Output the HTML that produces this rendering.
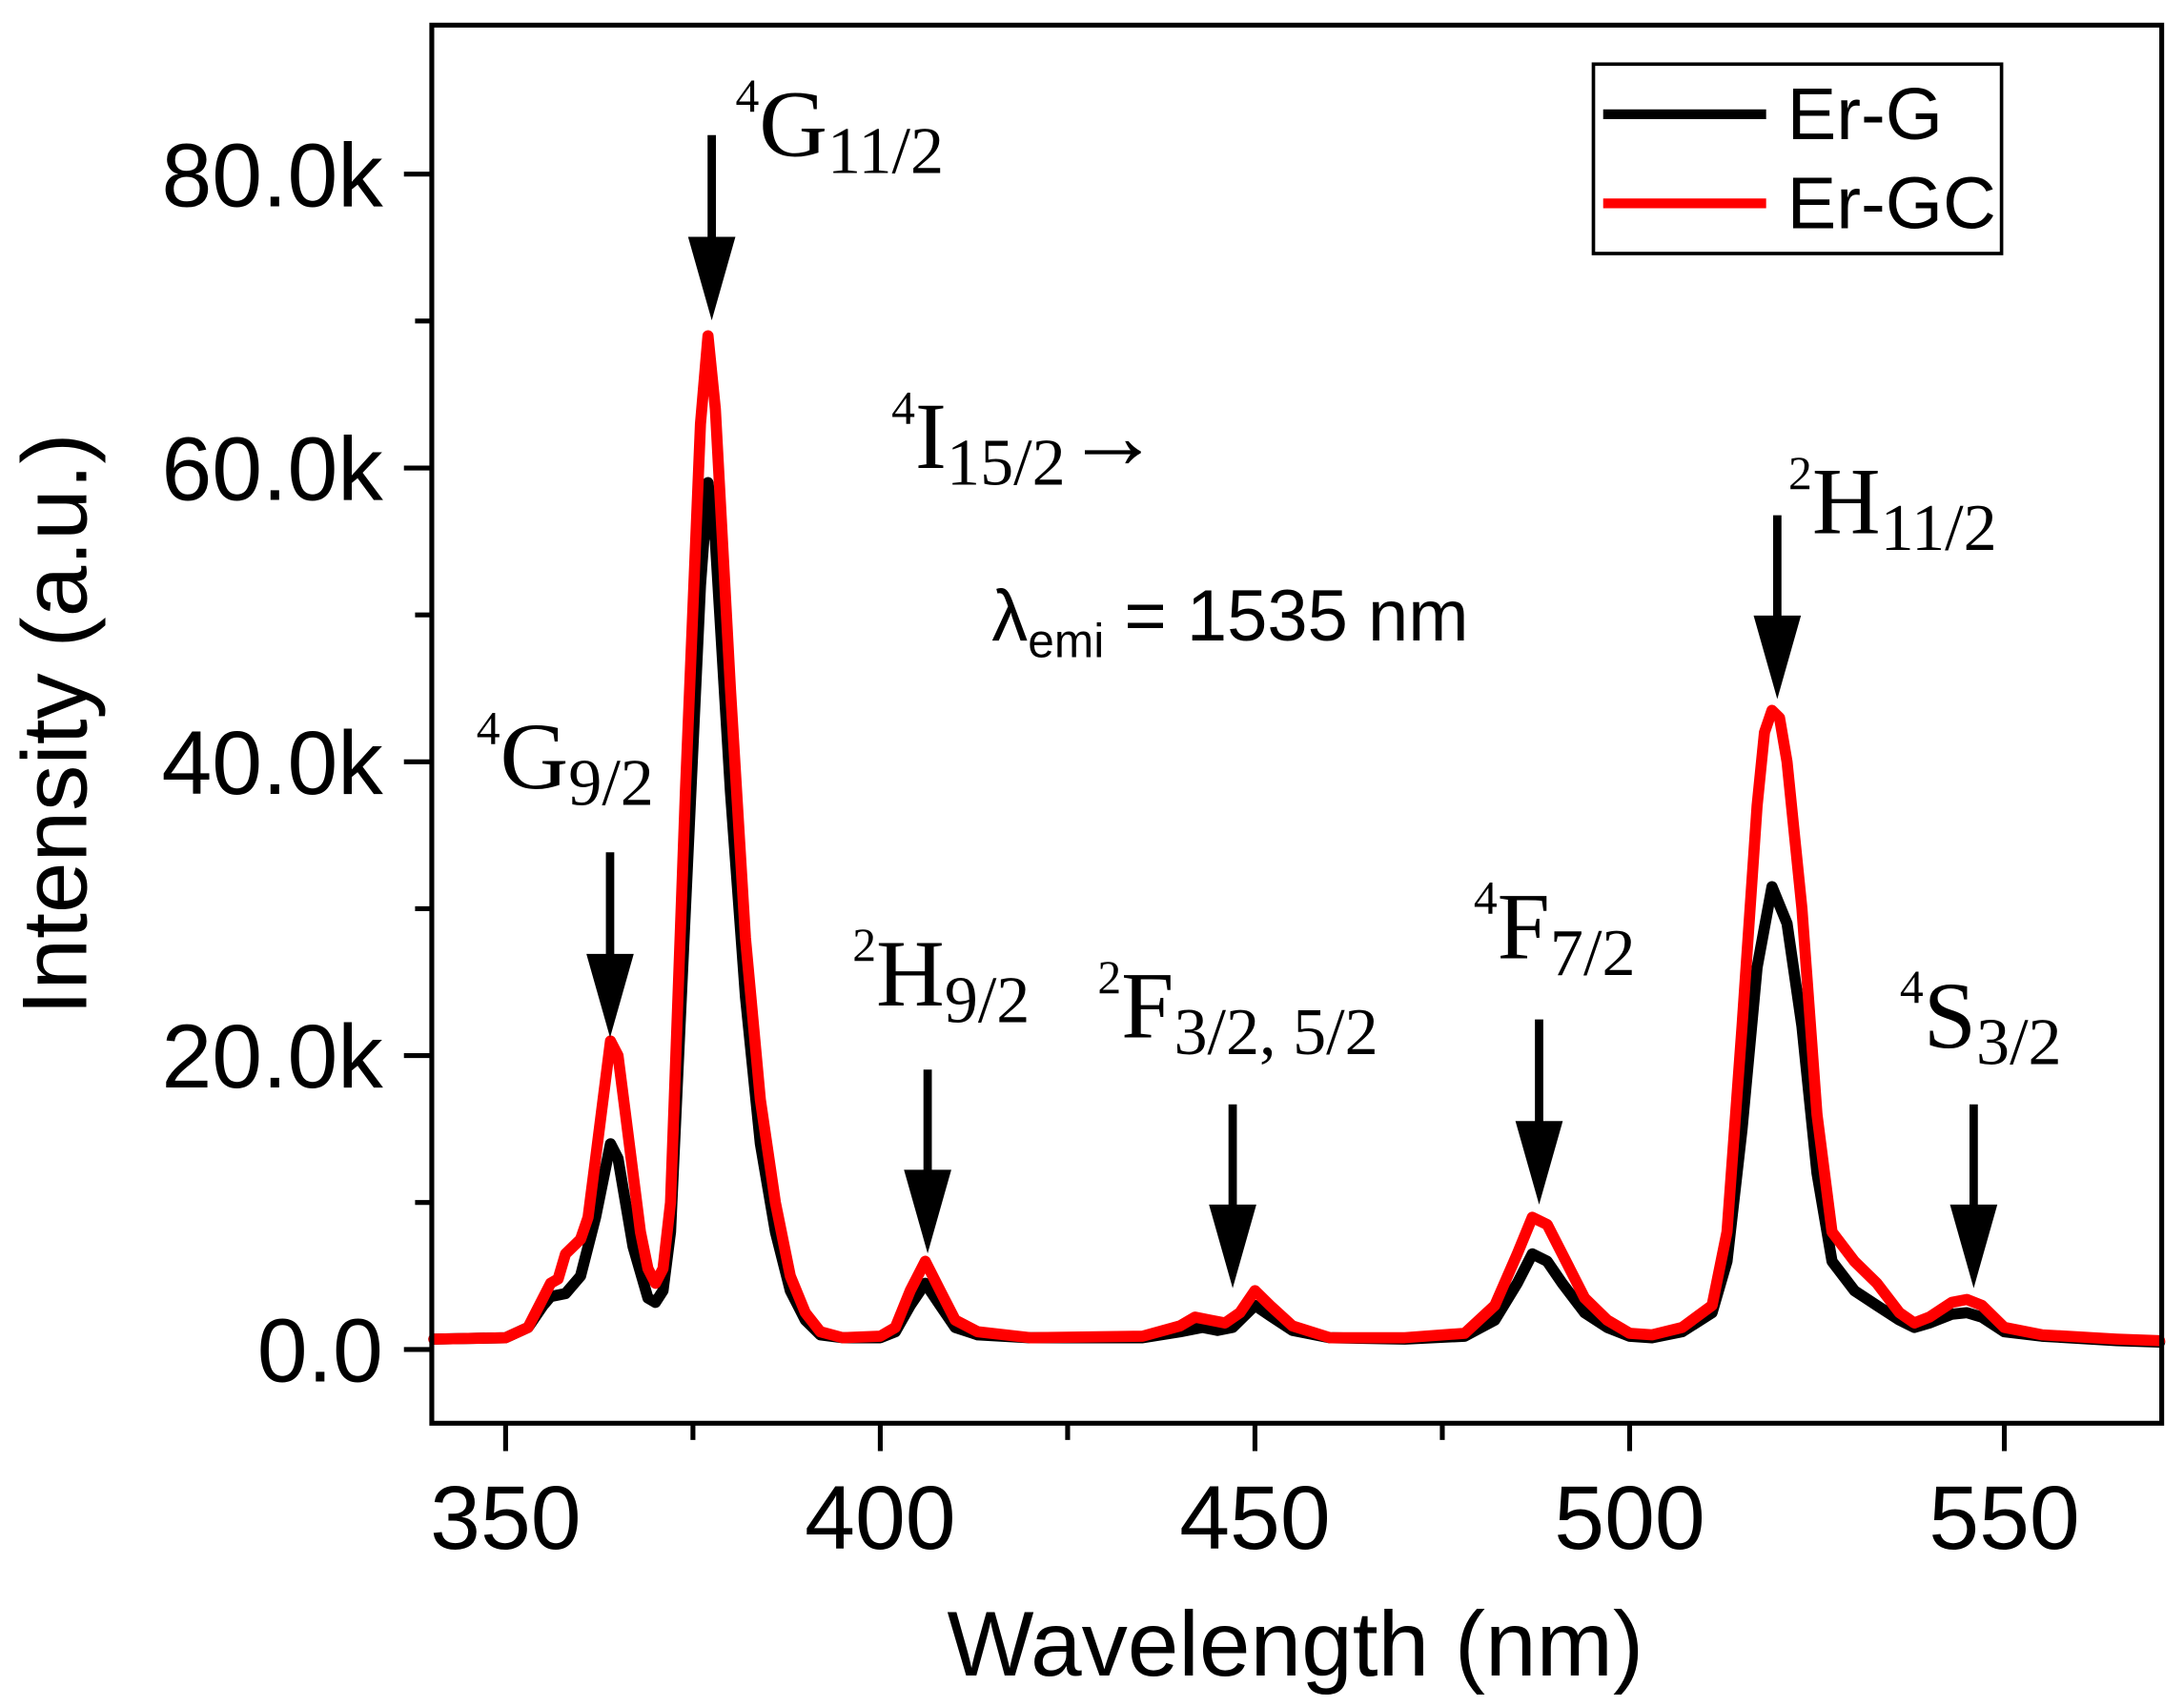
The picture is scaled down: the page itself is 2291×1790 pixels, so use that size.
<!DOCTYPE html>
<html><head><meta charset="utf-8"><style>html,body{margin:0;padding:0;background:#fff}svg{display:block}</style></head>
<body>
<svg width="2291" height="1790" viewBox="0 0 1568 1225" xmlns="http://www.w3.org/2000/svg">
<rect width="1568" height="1225" fill="#fff"/>
<g fill="none" stroke-linejoin="round" stroke-linecap="round" stroke-width="8">
<path stroke="#000" d="M311.5,961.6 L363,960.6 L379.1,953.2 L389.9,937.4 L395.3,931.0 L406.0,928.9 L416.8,916.3 L427.6,874.1 L438.3,821.3 L443.7,831.9 L454.5,895.2 L465.2,932.1 L470.6,935.2 L476.0,926.8 L481.4,884.6 L492.1,652.5 L502.9,420.4 L508.3,346.5 L513.6,388.8 L524.4,568.1 L535.2,715.8 L545.9,821.3 L556.7,884.6 L567.4,926.8 L578.2,947.9 L589.0,958.5 L605.1,960.6 L632,960.6 L642.8,956.3 L653.5,937.4 L664.3,921.5 L675.0,937.4 L685.8,953.2 L701.9,958.5 L739.6,960.6 L820.3,960.6 L847.2,956.3 L863.3,953.2 L874.1,955.3 L884.9,953.2 L901,937.4 L911.8,944.7 L927.9,955.3 L954.8,960.6 L1008.6,961.6 L1051.6,959.5 L1073.2,947.9 L1089.3,921.5 L1100.1,900.4 L1110.8,905.7 L1121.6,921.5 L1137.7,942.6 L1153.9,953.2 L1170,959.5 L1186.1,960.6 L1207.7,956.3 L1229.2,942.6 L1239.9,905.7 L1250.7,810.8 L1261.5,694.7 L1272.2,636.7 L1283.0,663.1 L1293.7,736.9 L1304.5,842.4 L1315.3,905.7 L1331.4,926.8 L1347.5,937.4 L1363.7,947.9 L1374.4,953.2 L1385.2,950.0 L1401.3,943.7 L1412.1,942.6 L1422.9,945.8 L1439,956.3 L1465.9,959.5 L1519.7,962.7 L1550.5,963.7"/>
<path stroke="#f00" d="M311.5,961.6 L363,960.6 L379.1,953.2 L389.9,932.1 L395.3,921.5 L400.7,918.4 L406.0,900.4 L416.8,889.9 L422.2,874.1 L427.6,831.9 L438.3,747.5 L443.7,758.0 L449.1,800.2 L459.8,884.6 L465.2,911.0 L470.6,921.5 L476.0,911.0 L481.4,863.5 L492.1,568.1 L502.9,304.4 L508.3,241.1 L513.6,293.8 L524.4,494.3 L535.2,673.6 L545.9,789.7 L556.7,863.5 L567.4,916.3 L578.2,942.6 L589.0,956.3 L605.1,960.6 L632,959.5 L642.8,953.2 L653.5,926.8 L664.3,905.7 L675.0,926.8 L685.8,947.9 L701.9,956.3 L739.6,960.6 L820.3,959.5 L847.2,952.1 L858.0,945.8 L868.7,947.9 L879.5,950.0 L890.2,942.6 L901,926.8 L911.8,937.4 L927.9,952.1 L954.8,960.6 L1008.6,960.6 L1051.6,957.4 L1073.2,937.4 L1089.3,900.4 L1100.1,874.1 L1110.8,879.3 L1121.6,900.4 L1137.7,932.1 L1153.9,947.9 L1170,957.4 L1186.1,958.5 L1207.7,953.2 L1229.2,937.4 L1239.9,884.6 L1250.7,736.9 L1261.5,578.7 L1266.8,525.9 L1272.2,510.1 L1277.6,515.4 L1283.0,547.0 L1293.7,652.5 L1304.5,800.2 L1315.3,884.6 L1331.4,905.7 L1347.5,921.5 L1363.7,942.6 L1374.4,950.0 L1385.2,945.8 L1401.3,935.2 L1412.1,933.1 L1422.9,937.4 L1439,953.2 L1465.9,958.5 L1519.7,961.6 L1550.5,962.7"/>
</g>
<rect x="310" y="18" width="1242" height="1004" fill="none" stroke="#000" stroke-width="3.5"/>
<g stroke="#000" stroke-width="3.5">
<line x1="363" y1="1022" x2="363" y2="1042"/><line x1="632" y1="1022" x2="632" y2="1042"/><line x1="901" y1="1022" x2="901" y2="1042"/><line x1="1170" y1="1022" x2="1170" y2="1042"/><line x1="1439" y1="1022" x2="1439" y2="1042"/>
<line x1="497.5" y1="1022" x2="497.5" y2="1034"/><line x1="766.5" y1="1022" x2="766.5" y2="1034"/><line x1="1035.5" y1="1022" x2="1035.5" y2="1034"/>
<line x1="290" y1="969" x2="310" y2="969"/><line x1="290" y1="758" x2="310" y2="758"/><line x1="290" y1="547" x2="310" y2="547"/><line x1="290" y1="336" x2="310" y2="336"/><line x1="290" y1="125" x2="310" y2="125"/>
<line x1="298" y1="863.5" x2="310" y2="863.5"/><line x1="298" y1="652.5" x2="310" y2="652.5"/><line x1="298" y1="441.5" x2="310" y2="441.5"/><line x1="298" y1="230.5" x2="310" y2="230.5"/>
</g>
<g font-family="Liberation Sans, Arial, sans-serif" font-size="65" fill="#000">
<text x="363" y="1112" text-anchor="middle">350</text><text x="632" y="1112" text-anchor="middle">400</text><text x="901" y="1112" text-anchor="middle">450</text><text x="1170" y="1112" text-anchor="middle">500</text><text x="1439" y="1112" text-anchor="middle">550</text>
<text x="275" y="992" text-anchor="end">0.0</text><text x="275" y="781" text-anchor="end">20.0k</text><text x="275" y="570" text-anchor="end">40.0k</text><text x="275" y="359" text-anchor="end">60.0k</text><text x="275" y="148" text-anchor="end">80.0k</text>
<text x="930" y="1203" text-anchor="middle" font-size="66">Wavelength (nm)</text>
<text transform="translate(62,520) rotate(-90)" text-anchor="middle" font-size="66">Intensity (a.u.)</text>
<text x="712" y="460" font-size="52">λ<tspan font-size="34" dy="12">emi</tspan><tspan dy="-12"> = 1535 nm</tspan></text>
</g>
<rect x="1144" y="46" width="293" height="136" fill="#fff" stroke="#000" stroke-width="2.5"/>
<line x1="1151" y1="82" x2="1268" y2="82" stroke="#000" stroke-width="7"/>
<line x1="1151" y1="146" x2="1268" y2="146" stroke="#f00" stroke-width="7"/>
<g font-family="Liberation Sans, Arial, sans-serif" font-size="53"><text x="1283" y="100">Er-G</text><text x="1283" y="164">Er-GC</text></g>
<g font-family="Liberation Serif, Times New Roman, serif" font-size="68" fill="#000">
<text x="528" y="112"><tspan font-size="34" dy="-32">4</tspan><tspan dy="32">G</tspan><tspan font-size="48" dy="12">11/2</tspan></text>
<text x="342" y="566"><tspan font-size="34" dy="-32">4</tspan><tspan dy="32">G</tspan><tspan font-size="48" dy="12">9/2</tspan></text>
<text x="640" y="336"><tspan font-size="34" dy="-32">4</tspan><tspan dy="32">I</tspan><tspan font-size="48" dy="12">15/2</tspan><tspan dy="-12">→</tspan></text>
<text x="612" y="722"><tspan font-size="34" dy="-32">2</tspan><tspan dy="32">H</tspan><tspan font-size="48" dy="12">9/2</tspan></text>
<text x="788" y="745"><tspan font-size="34" dy="-32">2</tspan><tspan dy="32">F</tspan><tspan font-size="48" dy="12">3/2, 5/2</tspan></text>
<text x="1058" y="688"><tspan font-size="34" dy="-32">4</tspan><tspan dy="32">F</tspan><tspan font-size="48" dy="12">7/2</tspan></text>
<text x="1284" y="383"><tspan font-size="34" dy="-32">2</tspan><tspan dy="32">H</tspan><tspan font-size="48" dy="12">11/2</tspan></text>
<text x="1364" y="752"><tspan font-size="34" dy="-32">4</tspan><tspan dy="32">S</tspan><tspan font-size="48" dy="12">3/2</tspan></text>
</g>
<g stroke="#000" stroke-width="6">
<line x1="511" y1="97" x2="511" y2="180"/><line x1="438" y1="612" x2="438" y2="695"/><line x1="666" y1="768" x2="666" y2="850"/><line x1="885" y1="793" x2="885" y2="875"/><line x1="1105" y1="732" x2="1105" y2="815"/><line x1="1276" y1="370" x2="1276" y2="452"/><line x1="1417" y1="793" x2="1417" y2="875"/>
</g>
<g fill="#000">
<polygon points="494,170 528,170 511,230"/><polygon points="421,685 455,685 438,745"/><polygon points="649,840 683,840 666,900"/><polygon points="868,865 902,865 885,925"/><polygon points="1088,805 1122,805 1105,865"/><polygon points="1259,442 1293,442 1276,502"/><polygon points="1400,865 1434,865 1417,925"/>
</g>
</svg>
</body></html>
